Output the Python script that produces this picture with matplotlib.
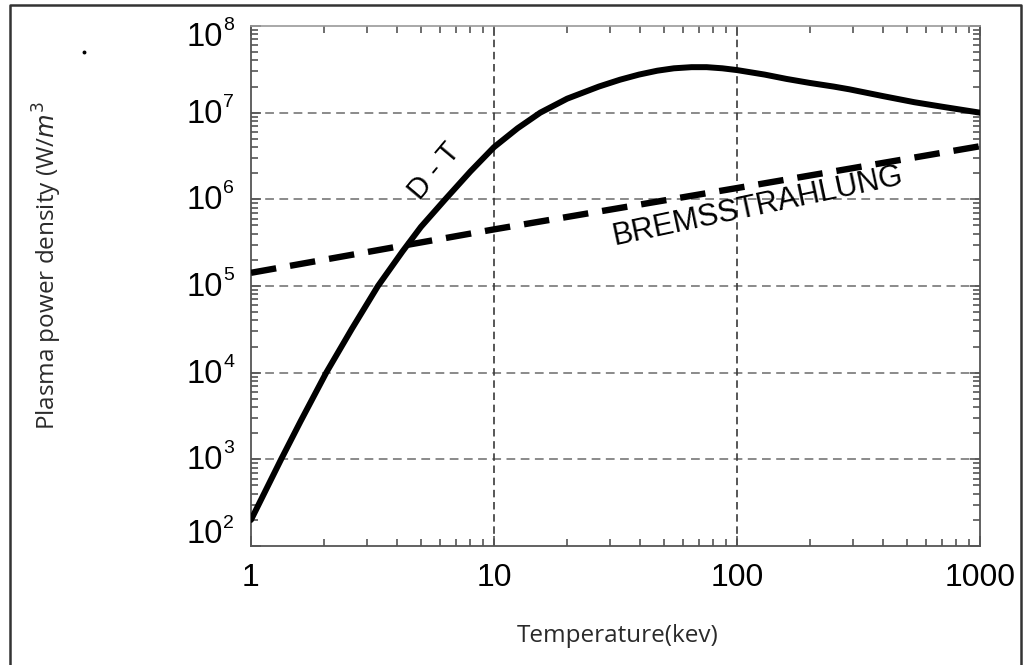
import matplotlib
matplotlib.use("Agg")
import matplotlib.pyplot as plt
from matplotlib.lines import Line2D
import numpy as np

# ---- data ----
dt_temp = [1.0, 1.33, 1.6, 2.04, 2.6, 3.33, 4.2, 5.0, 6.3, 8.0, 10, 12.5, 15.5, 20, 27, 33,
           39.5, 47, 55, 65, 75, 87, 100, 130, 160, 200, 250, 290, 400, 537, 700, 1000]
dt_power = [2.0e2, 1.0e3, 2.75e3, 1.0e4, 3.2e4, 1.0e5, 2.5e5, 4.8e5, 1.0e6, 2.1e6, 4.0e6,
            6.6e6, 1.0e7, 1.45e7, 2.0e7, 2.4e7, 2.75e7, 3.05e7, 3.25e7, 3.35e7, 3.35e7,
            3.25e7, 3.1e7, 2.75e7, 2.45e7, 2.2e7, 2.0e7, 1.86e7, 1.55e7, 1.32e7, 1.17e7, 1.0e7]
brems_temp = [1, 10, 100, 1000]
brems_power = [1.42e5, 4.5e5, 1.35e6, 4.1e6]
x_ticks = [1, 10, 100, 1000]
x_tick_labels = ["1", "10", "100", "1000"]
y_exponents = [2, 3, 4, 5, 6, 7, 8]

W, H = 1026, 665
fig = plt.figure(figsize=(W / 100, H / 100), dpi=100)
ax = fig.add_axes([251 / W, 1 - 546 / H, (980 - 251) / W, (546 - 26) / H])

ax.set_xscale("log")
ax.set_yscale("log")
ax.set_xlim(1, 1000)
ax.set_ylim(1e2, 1e8)

# grid
for k in y_exponents[1:-1]:
    ax.axhline(10.0 ** k, color="#8a8a8a", lw=1.4, dashes=(4.5, 2.8), zorder=1)
for xv in x_ticks[1:-1]:
    ax.axvline(xv, color="#3a3a3a", lw=1.2, dashes=(4.5, 2.8), zorder=1)

# curves
ax.plot(dt_temp, dt_power, color="black", lw=4.3, solid_capstyle="round",
        solid_joinstyle="round", zorder=3)
ax.plot(brems_temp, brems_power, color="black", lw=4.6, dashes=(4.0, 2.2), zorder=3)

# curve labels
ax.text(5.7, 2.1e6, "D - T", rotation=50, fontsize=21, family="Liberation Sans",
        ha="center", va="center", zorder=4)
ax.text(122, 8.3e5, "BREMSSTRAHLUNG", rotation=12, fontsize=22, family="Liberation Sans",
        ha="center", va="center", zorder=4)

# spines
for s in ["left", "bottom", "right"]:
    ax.spines[s].set_color("#555555")
    ax.spines[s].set_linewidth(1.3)
ax.spines["top"].set_color("#9a9a9a")
ax.spines["top"].set_linewidth(1.2)

# ticks
ax.set_xticks(x_ticks)
ax.set_xticklabels(x_tick_labels)
ax.set_yticks([10.0 ** k for k in y_exponents])
ax.set_yticklabels([""] * len(y_exponents))
ax.tick_params(which="both", direction="in", top=True, right=True, color="#555555")
ax.tick_params(which="major", length=7.5, width=1.2)
ax.tick_params(which="minor", length=5, width=1.2)
ax.tick_params(axis="x", which="major", pad=12, labelsize=23)
for lab in ax.get_xticklabels():
    lab.set_family("Liberation Sans")

# y tick labels: "10" with superscript exponent
ytr = ax.get_yaxis_transform()
y_label_shift = {8: -7, 2: 9}
for k in y_exponents:
    dy = y_label_shift.get(k, 0)
    ax.annotate("10", xy=(0, 10.0 ** k), xycoords=ytr, xytext=(-20.5, dy - 1),
                textcoords="offset points", ha="right", va="center",
                fontsize=23.5, family="Liberation Sans", annotation_clip=False)
    ax.annotate(str(k), xy=(0, 10.0 ** k), xycoords=ytr, xytext=(-20, dy + 7.5),
                textcoords="offset points", ha="left", va="center",
                fontsize=14, family="Liberation Sans", annotation_clip=False)

# axis titles
fig.text(618 / W, 1 - 636 / H, "Temperature(kev)", ha="center", va="center",
         fontsize=17.5, family="Open Sans", color="#2a2a2a")
fig.text(47 / W, 1 - 266 / H, "Plasma power density (W/$m^3$", rotation=90,
         ha="center", va="center", fontsize=17.5, family="Open Sans", color="#2a2a2a")

# outer frame (left, top, right)
frame_x = [10 / W, 10 / W, 1021 / W, 1021 / W]
frame_y = [0.0, 1 - 5 / H, 1 - 5 / H, 0.0]
fig.add_artist(Line2D(frame_x, frame_y, transform=fig.transFigure, color="#333333", lw=1.8))
fig.add_artist(Line2D([84 / W], [1 - 52 / H], transform=fig.transFigure, marker="o",
                      markersize=1.8, color="black", lw=0))

fig.savefig("out.png", dpi=100)
